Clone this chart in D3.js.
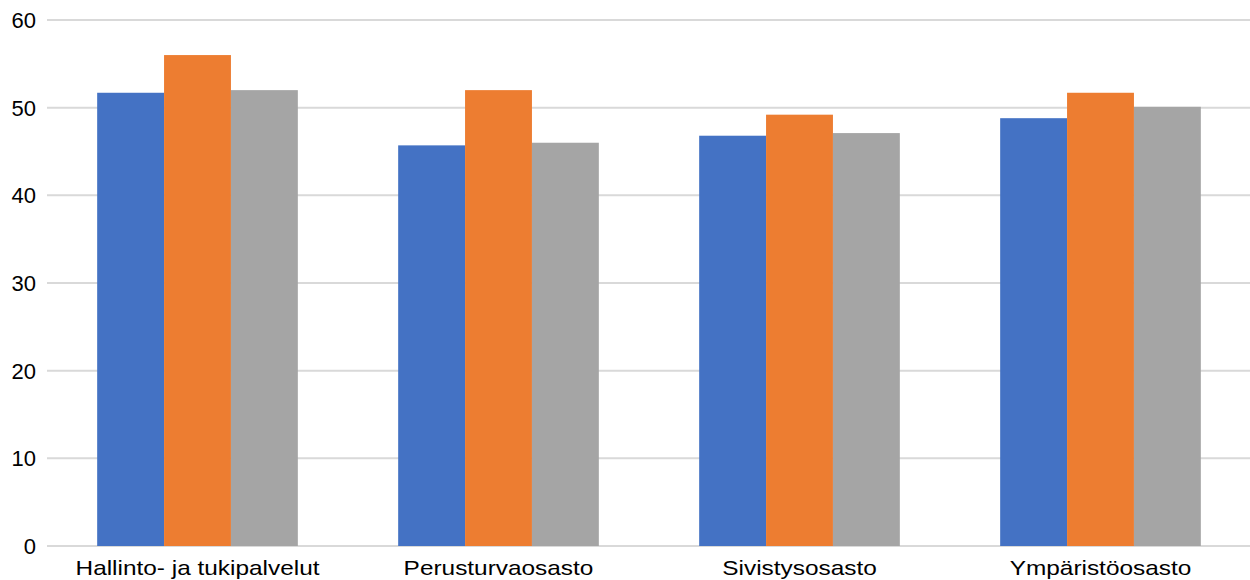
<!DOCTYPE html>
<html>
<head>
<meta charset="utf-8">
<script src="https://cdn.jsdelivr.net/npm/d3@7"></script>
<style>
  html, body { margin: 0; padding: 0; background: #fff; }
  svg { display: block; font-family: "Liberation Sans", Arial, sans-serif; }
</style>
</head>
<body>
<svg id="chart" width="1250" height="580"></svg>
<script>
// Departments shown along the x axis
const categories = ["Hallinto- ja tukipalvelut", "Perusturvaosasto", "Sivistysosasto", "Ympäristöosasto"];
// Three series per department
const seriesA = [51.7, 45.7, 46.8, 48.8];
const seriesB = [56.0, 52.0, 49.2, 51.7];
const seriesC = [52.0, 46.0, 47.1, 50.1];
const seriesNames = ["A", "B", "C"];
const seriesColors = ["#4472c4", "#ed7d31", "#a5a5a5"];
const yTicks = [0, 10, 20, 30, 40, 50, 60];

const allSeries = [seriesA, seriesB, seriesC];

const svg = d3.select("#chart");
const plotLeft = 47, plotRight = 1251, plotTop = 20, plotBottom = 546;

const x0 = d3.scaleBand()
  .domain(categories)
  .range([plotLeft, plotRight])
  .paddingInner(1 / 3)
  .paddingOuter(1 / 6);

const x1 = d3.scaleBand()
  .domain(seriesNames)
  .range([0, x0.bandwidth()])
  .padding(0);

const y = d3.scaleLinear().domain([0, 60]).range([plotBottom, plotTop]);

// Horizontal gridlines
svg.append("g")
  .selectAll("line")
  .data(yTicks)
  .join("line")
  .attr("x1", plotLeft)
  .attr("x2", 1250)
  .attr("y1", d => y(d))
  .attr("y2", d => y(d))
  .attr("stroke", "#d9d9d9")
  .attr("stroke-width", 2);

// Y tick labels
svg.append("g")
  .selectAll("text")
  .data(yTicks)
  .join("text")
  .attr("x", 36)
  .attr("y", d => y(d))
  .attr("dy", "0.36em")
  .attr("text-anchor", "end")
  .attr("font-size", 22)
  .attr("fill", "#000")
  .text(d => d);

// Bars
const groups = svg.append("g")
  .selectAll("g")
  .data(categories)
  .join("g")
  .attr("transform", d => `translate(${x0(d)},0)`);

groups.selectAll("rect")
  .data((d, i) => allSeries.map((s, j) => ({ name: seriesNames[j], value: s[i], color: seriesColors[j] })))
  .join("rect")
  .attr("x", d => x1(d.name))
  .attr("width", x1.bandwidth())
  .attr("y", d => y(d.value))
  .attr("height", d => y(0) - y(d.value))
  .attr("fill", d => d.color);

// Category labels (set slightly wide)
svg.append("g")
  .selectAll("text")
  .data(categories)
  .join("text")
  .attr("transform", d => `translate(${x0(d) + x0.bandwidth() / 2},575) scale(1.22,1)`)
  .attr("text-anchor", "middle")
  .attr("font-size", 20)
  .attr("fill", "#000")
  .text(d => d);
</script>
</body>
</html>
